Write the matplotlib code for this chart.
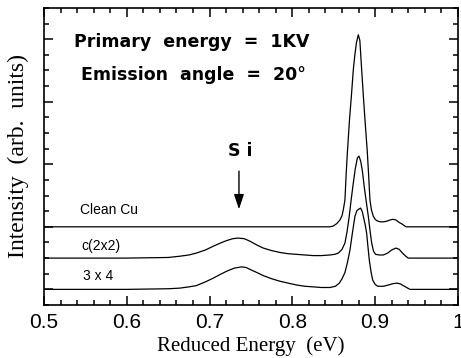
#!/usr/bin/env python3
"""Redraw the reduced-energy spectra for clean Cu and the two Si phases."""

import matplotlib.pyplot as plt
from matplotlib.ticker import MultipleLocator

# spectra, baseline-subtracted (offset added when drawing)
clean_x = [0.50, 0.70, 0.845, 0.849, 0.8535, 0.8575, 0.8600, 0.8615, 0.8635, 0.8650,
           0.8665, 0.8690, 0.8715, 0.8736, 0.8755, 0.8775, 0.8796, 0.8815, 0.8837,
           0.8857, 0.8877, 0.8905, 0.8920, 0.8937, 0.8955, 0.8977, 0.9000, 0.9017,
           0.9060, 0.9100, 0.9140, 0.9180, 0.9214, 0.9250, 0.9290, 0.9330, 0.9360,
           0.9380, 1.00]
clean_y = [0.0, 0.0, 0.0, 0.01, 0.05, 0.11, 0.18, 0.27, 0.43, 0.85,
           1.20, 1.71, 2.13, 2.51, 2.75, 2.95, 3.07, 2.98, 2.51,
           2.10, 1.71, 1.20, 0.85, 0.43, 0.27, 0.17, 0.12, 0.10,
           0.08, 0.08, 0.09, 0.11, 0.12, 0.11, 0.07, 0.04, 0.01,
           0.0, 0.0]

c2x2_x = [0.50, 0.60, 0.650, 0.664, 0.675, 0.684, 0.695, 0.7045, 0.713, 0.7206,
          0.728, 0.7347, 0.742, 0.7488, 0.757, 0.7649, 0.775, 0.785, 0.795, 0.8051,
          0.815, 0.8252, 0.835, 0.8454, 0.851, 0.8555, 0.860, 0.8635, 0.866, 0.8687,
          0.871, 0.8736, 0.876, 0.8785, 0.8805, 0.8825, 0.8845, 0.8870, 0.8895,
          0.8917, 0.894, 0.8958, 0.898, 0.9005, 0.905, 0.910, 0.915, 0.920, 0.925,
          0.929, 0.933, 0.937, 0.940, 1.00]
c2x2_y = [0.0, 0.0, 0.01, 0.03, 0.05, 0.08, 0.13, 0.19, 0.24, 0.28,
          0.31, 0.32, 0.31, 0.27, 0.21, 0.16, 0.12, 0.09, 0.07, 0.06,
          0.05, 0.04, 0.04, 0.05, 0.06, 0.08, 0.14, 0.24, 0.42, 0.67,
          0.93, 1.20, 1.43, 1.60, 1.63, 1.55, 1.40, 1.12, 0.88,
          0.67, 0.42, 0.24, 0.11, 0.06, 0.05, 0.05, 0.08, 0.13, 0.16,
          0.14, 0.08, 0.03, 0.0, 0.0]

r3x4_x = [0.50, 0.60, 0.650, 0.664, 0.675, 0.684, 0.695, 0.7045, 0.713, 0.7206,
          0.730, 0.7388, 0.744, 0.7488, 0.757, 0.7649, 0.775, 0.785, 0.795, 0.8051,
          0.815, 0.8252, 0.835, 0.8454, 0.852, 0.8567, 0.860, 0.8635, 0.8665, 0.8696,
          0.8725, 0.8756, 0.878, 0.8800, 0.8824, 0.8845, 0.8860, 0.888, 0.8897,
          0.8913, 0.8929, 0.895, 0.897, 0.900, 0.903, 0.910, 0.916, 0.921, 0.926,
          0.930, 0.934, 0.938, 0.942, 1.00]
r3x4_y = [0.0, 0.0, 0.01, 0.02, 0.04, 0.06, 0.12, 0.18, 0.24, 0.29,
          0.34, 0.36, 0.35, 0.32, 0.27, 0.22, 0.17, 0.13, 0.10, 0.07,
          0.05, 0.04, 0.03, 0.03, 0.05, 0.10, 0.17, 0.27, 0.43, 0.63,
          0.90, 1.17, 1.26, 1.28, 1.30, 1.24, 1.15, 1.03, 0.90,
          0.68, 0.47, 0.28, 0.15, 0.08, 0.05, 0.05, 0.07, 0.09, 0.10,
          0.09, 0.06, 0.03, 0.0, 0.0]

labels = ["Clean Cu", "c(2x2)", "3 x 4"]
offsets = [1.0, 0.5, 0.0]
x_ticks = [0.5, 0.6, 0.7, 0.8, 0.9, 1.0]
x_tick_labels = ["0.5", "0.6", "0.7", "0.8", "0.9", "1"]


def main() -> None:
    fig = plt.figure(figsize=(4.61, 3.58), dpi=100)
    ax = fig.add_axes([0.0954, 0.148, 0.898, 0.830])

    curves = [(clean_x, clean_y), (c2x2_x, c2x2_y), (r3x4_x, r3x4_y)]
    for (xs, ys), off in zip(curves, offsets):
        ax.plot(xs, [v + off for v in ys], color="black", lw=0.9)

    ax.set_xlim(0.5, 1.0)
    ax.set_ylim(-0.25, 4.5)
    ax.set_xticks(x_ticks)
    ax.set_xticklabels(x_tick_labels, family="Liberation Sans", fontsize=15)
    ax.xaxis.set_minor_locator(MultipleLocator(0.02))
    ax.yaxis.set_major_locator(MultipleLocator(1.0))
    ax.yaxis.set_minor_locator(MultipleLocator(0.25))
    ax.set_yticklabels([])
    ax.tick_params(which="both", direction="in", top=True, right=True, width=1.1)
    ax.tick_params(which="major", length=6.5, pad=6)
    ax.tick_params(which="minor", length=3.5)
    for sp in ax.spines.values():
        sp.set_linewidth(1.2)

    ax.set_xlabel("Reduced Energy  (eV)", family="Liberation Serif", fontsize=15, labelpad=3)
    ax.set_ylabel("Intensity  (arb.  units)", family="Liberation Serif", fontsize=17, labelpad=5)

    bold = dict(family="DejaVu Sans", fontsize=12.5, fontweight="bold", ha="center", va="baseline")
    ax.text(0.679, 3.88, "Primary  energy  =  1KV", **bold)
    ax.text(0.6805, 3.345, "Emission  angle  =  20°", **bold)
    ax.text(0.737, 2.14, "S i", **bold)
    ax.annotate("", xy=(0.7355, 1.28), xytext=(0.7355, 1.89),
                arrowprops=dict(arrowstyle="-|>,head_length=0.9,head_width=0.3",
                                color="black", lw=1.0, shrinkA=0, shrinkB=0))

    small = dict(family="Liberation Sans", fontsize=10, ha="left", va="baseline")
    ax.text(0.5435, 1.21, labels[0], **small)
    ax.text(0.5455, 0.63, labels[1], **small)
    ax.text(0.5475, 0.15, labels[2], **small)

    fig.savefig("out.png", dpi=100)
    plt.close(fig)


if __name__ == "__main__":
    main()
